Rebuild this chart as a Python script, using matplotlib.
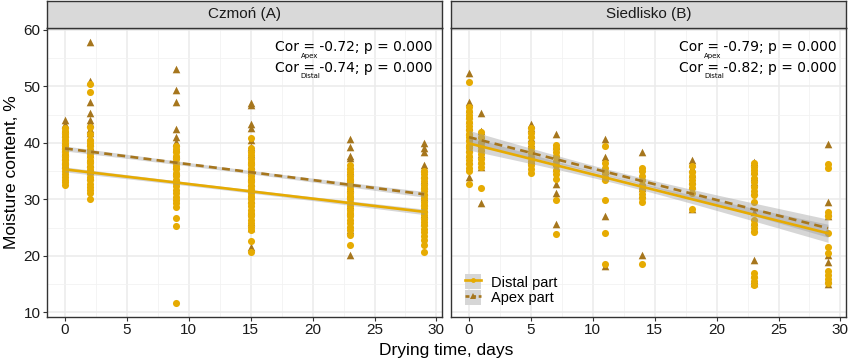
import matplotlib
matplotlib.use("Agg")
import matplotlib.pyplot as plt
import numpy as np
from matplotlib.lines import Line2D
from matplotlib.patches import Patch

# ---- data ----
panel_titles = ["Czmoń (A)", "Siedlisko (B)"]

czmon_days = [0, 2, 9, 15, 23, 29]
czmon_distal = [
    [42.6, 42.0, 41.5, 41.0, 40.5, 40.0, 39.5, 39.0, 38.5, 38.0, 37.5, 37.0, 36.5,
     36.0, 35.5, 35.0, 34.5, 34.0, 33.5, 33.0, 32.6],
    [50.4, 48.9, 42.8, 41.5, 40.5, 40.0, 39.4, 38.8, 38.2, 37.6, 37.0, 36.4, 35.8,
     35.2, 34.6, 34.0, 33.4, 32.8, 32.2, 31.6, 31.1, 30.1],
    [39.5, 38.9, 38.3, 37.7, 37.1, 36.5, 35.9, 35.3, 34.7, 34.1, 33.5, 32.9, 32.3,
     31.7, 31.1, 30.5, 29.9, 29.3, 28.7, 26.7, 25.3, 11.6],
    [40.8, 39.0, 38.4, 37.8, 37.2, 36.6, 36.0, 35.4, 34.8, 34.2, 33.6, 33.0, 32.4,
     31.8, 31.2, 30.6, 30.0, 29.4, 28.8, 28.2, 27.6, 27.0, 26.4, 25.8, 25.2, 24.6,
     22.7, 20.7],
    [36.0, 35.4, 34.8, 34.2, 33.6, 33.0, 32.4, 31.8, 31.2, 30.6, 30.0, 29.4, 28.8,
     28.2, 27.6, 27.0, 26.4, 25.8, 25.2, 24.6, 23.7, 22.0],
    [35.0, 34.4, 33.8, 33.2, 32.6, 32.0, 31.4, 30.8, 30.2, 29.6, 29.0, 28.4, 27.8,
     27.2, 26.6, 26.0, 25.4, 24.8, 24.2, 23.6, 22.9, 21.9, 20.7],
]
czmon_apex = [
    [44.0, 43.3, 42.5, 41.8, 41.0, 40.3, 39.6, 39.0, 38.3, 37.6, 37.0, 36.3],
    [57.9, 51.0, 47.2, 45.2, 44.0, 43.5, 42.5, 41.7, 41.0, 40.2, 39.5, 38.8, 38.0,
     37.3, 36.5, 35.8, 35.0, 34.2],
    [53.1, 49.3, 47.3, 42.5, 41.0, 40.2, 39.0, 38.0, 37.0, 36.0, 35.0, 34.0],
    [47.1, 46.6, 43.3, 42.6, 40.5, 39.2, 38.0, 37.0, 36.0, 35.0, 34.0, 33.0, 32.0,
     31.0, 30.0, 28.0, 26.0, 25.0, 21.6],
    [40.6, 39.2, 37.7, 37.4, 36.0, 35.0, 34.0, 33.0, 32.0, 31.0, 30.0, 29.0, 28.0,
     24.5, 20.2],
    [39.9, 39.0, 38.3, 36.1, 35.6, 34.5, 33.5, 32.5, 31.5, 30.5, 29.5, 28.5, 27.5,
     26.0],
]

siedl_days = [0, 1, 5, 7, 11, 14, 18, 23, 29]
siedl_distal = [
    [50.7, 46.3, 45.6, 45.0, 44.3, 43.6, 43.0, 42.3, 41.6, 41.0, 40.3, 39.6, 39.0,
     38.3, 37.6, 37.0, 36.3, 35.6, 35.0, 32.7],
    [41.9, 41.0, 40.2, 39.5, 38.8, 38.0, 37.2, 36.5, 35.8, 32.0],
    [42.6, 41.8, 41.0, 40.0, 39.0, 38.2, 37.5, 36.8, 36.0, 35.3, 34.6],
    [39.6, 39.0, 38.4, 37.6, 36.8, 36.0, 35.2, 34.4, 33.6, 29.9, 23.8],
    [39.5, 36.4, 35.6, 34.8, 34.0, 33.4, 29.9, 24.0, 18.6],
    [35.5, 35.0, 34.2, 33.4, 32.6, 31.8, 31.0, 30.2, 29.5, 18.6],
    [35.9, 34.9, 34.2, 33.5, 32.8, 32.0, 31.1, 28.3],
    [36.4, 35.8, 35.2, 34.6, 33.8, 33.0, 32.2, 31.4, 30.8, 29.5, 26.4, 25.7, 25.0,
     24.3, 17.0, 16.2, 15.5, 14.9],
    [36.2, 35.5, 27.8, 27.0, 24.0, 21.6, 20.6, 17.3, 16.6, 15.9, 15.2],
]
siedl_apex = [
    [52.4, 47.2, 46.0, 45.0, 44.0, 43.0, 42.0, 41.0, 40.0, 39.0, 38.0, 37.0, 34.0],
    [45.2, 42.0, 41.3, 40.5, 39.8, 39.0, 38.0, 37.0, 35.8, 29.4],
    [43.4, 42.7, 41.5, 40.8, 40.0, 39.0, 38.0, 37.0],
    [41.5, 39.5, 38.0, 36.5, 35.5, 32.8, 31.2, 25.6],
    [40.6, 37.5, 35.0, 34.0, 27.1, 18.3],
    [38.3, 34.0, 33.0, 32.0, 31.0, 20.2],
    [37.0, 36.5, 35.5, 34.5, 33.5, 32.5, 28.3],
    [36.6, 35.0, 34.0, 33.0, 31.5, 27.8, 26.0, 25.0, 19.3, 16.8, 15.8, 15.2],
    [39.8, 29.6, 27.8, 27.0, 20.2, 18.9, 16.0, 15.1],
]

# fitted lines: value at day 0 and day 29
distal_fit = [(35.3, 27.8), (39.9, 24.0)]
apex_fit = [(39.0, 30.9), (41.0, 24.9)]
# confidence band half widths: narrowest (at centre day) and at day 29
band_centre = [13.0, 12.0]
band_min = [0.3, 0.55]
band_end = [0.5, 1.6]

cor_apex = ["-0.72", "-0.79"]
cor_distal = ["-0.74", "-0.82"]

DISTAL = "#E6AB02"
APEX = "#A6761D"

fig = plt.figure(figsize=(8.5, 3.61), dpi=100)
renderer = fig.canvas.get_renderer()

panels = [(czmon_days, czmon_distal, czmon_apex), (siedl_days, siedl_distal, siedl_apex)]
lefts = [47 / 850, 451 / 850]
w = 395 / 850
bottom = 1 - 317 / 361
h = (317 - 28) / 361

for i, (days, distal, apex) in enumerate(panels):
    ax = fig.add_axes([lefts[i], bottom, w, h])
    ax.set_xlim(-1.45, 30.45)
    ax.set_ylim(9.2, 60.3)
    ax.set_xticks(np.arange(0, 31, 5))
    ax.set_xticks(np.arange(2.5, 30, 5), minor=True)
    ax.set_yticks(np.arange(10, 61, 10))
    ax.set_yticks(np.arange(15, 60, 10), minor=True)
    ax.grid(which="major", color="#EBEBEB", lw=1.1, zorder=0)
    ax.grid(which="minor", color="#F2F2F2", lw=0.6, zorder=0)
    ax.set_axisbelow(True)
    for s in ax.spines.values():
        s.set_color("#333333")
        s.set_linewidth(1.0)
    ax.tick_params(which="major", length=3, width=0.8, color="#333333",
                   labelsize=11, labelcolor="#1A1A1A", pad=1.5)
    ax.tick_params(which="minor", length=0)
    for lab in ax.get_xticklabels() + ax.get_yticklabels():
        lab.set_family("Liberation Sans")
    if i == 1:
        ax.set_yticklabels([])
        ax.tick_params(axis="y", length=0)

    # points
    for d, vals in zip(days, apex):
        ax.scatter([d] * len(vals), vals, marker="^", s=30, color=APEX,
                   linewidths=0, zorder=2)
    for d, vals in zip(days, distal):
        ax.scatter([d] * len(vals), vals, marker="o", s=26, color=DISTAL,
                   linewidths=0, zorder=3)

    # fitted lines with bands
    xs = np.linspace(0, 29, 100)
    k = np.sqrt(max(band_end[i] ** 2 - band_min[i] ** 2, 0)) / (29 - band_centre[i])
    hw = np.sqrt(band_min[i] ** 2 + (k * (xs - band_centre[i])) ** 2)
    for (y0, y1), col, ls in [(distal_fit[i], DISTAL, "-"), (apex_fit[i], APEX, (0, (3, 2)))]:
        ys = y0 + (y1 - y0) * xs / 29
        ax.fill_between(xs, ys - hw, ys + hw, color="#999999", alpha=0.4,
                        linewidth=0, zorder=4)
        ax.plot(xs, ys, color=col, lw=1.9, ls=ls, zorder=5)

    # correlation labels
    for yy, val, sub in [(0.934, cor_apex[i], "Apex"), (0.862, cor_distal[i], "Distal")]:
        t = ax.text(0.976, yy, f"Cor = {val}; p = 0.000", transform=ax.transAxes,
                    ha="right", va="center", fontsize=10, family="DejaVu Sans",
                    color="black", zorder=6)
        bb = t.get_window_extent(renderer)
        tmp = ax.text(0, 0, "Cor", fontsize=10, family="DejaVu Sans")
        wc = tmp.get_window_extent(renderer).width
        tmp.remove()
        fig.text((bb.x0 + wc + 1.5) / fig.dpi / 8.5, (bb.y0 - 1.5) / fig.dpi / 3.61, sub,
                 fontsize=5, family="DejaVu Sans", ha="left", va="center", zorder=6)

    # strip
    sax = fig.add_axes([lefts[i], 1 - 28 / 361, w, 27.5 / 361])
    sax.set_facecolor("#D9D9D9")
    sax.set_xticks([])
    sax.set_yticks([])
    for s in sax.spines.values():
        s.set_color("#333333")
        s.set_linewidth(1.0)
    sax.text(0.5, 0.5, panel_titles[i], ha="center", va="center", fontsize=11,
             family="Liberation Sans", color="#1A1A1A", transform=sax.transAxes)

    if i == 1:
        key_bg = Patch(facecolor="#D6D6D6", edgecolor="none")
        h1 = (key_bg, Line2D([], [], color=DISTAL, lw=1.9, marker="o", markersize=3.5,
                             markeredgewidth=0))
        h2 = (key_bg, Line2D([], [], color=APEX, lw=1.9, ls=(0, (1.5, 1)), marker="^",
                             markersize=3.8, markeredgewidth=0))
        leg = ax.legend([h1, h2], ["Distal part", "Apex part"], loc="lower left",
                        bbox_to_anchor=(0.035, 0.04), frameon=False, fontsize=10.5,
                        handlelength=1.1, handleheight=1.15, handletextpad=0.7,
                        labelspacing=0.05, borderpad=0, borderaxespad=0)
        for txt in leg.get_texts():
            txt.set_family("Liberation Sans")

fig.text(0.014, 0.5 + (361 / 2 - 172.5) / 361, "Moisture content, %", rotation=90,
         ha="center", va="center", fontsize=12.5, family="Liberation Sans")
fig.text(0.525, 0.028, "Drying time, days", ha="center", va="center",
         fontsize=12.5, family="Liberation Sans")

fig.savefig("out.png", dpi=100)
